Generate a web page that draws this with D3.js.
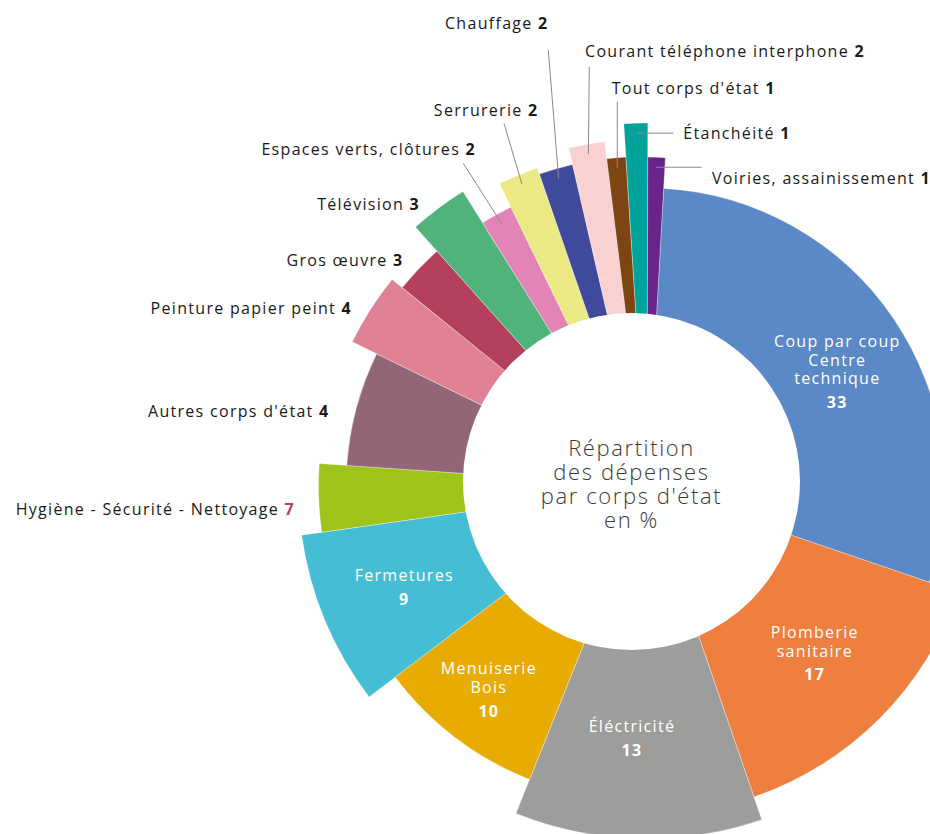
<!DOCTYPE html>
<html>
<head>
<meta charset="utf-8">
<script src="https://cdn.jsdelivr.net/npm/d3@7"></script>
<style>
  html, body { margin: 0; padding: 0; background: #fff; }
  svg { display: block; }
  text { font-family: "Open Sans", "Noto Sans", sans-serif; }
</style>
</head>
<body>
<svg id="chart" width="930" height="834"></svg>
<script>
// ---------------- DATA ----------------
const categories = [
  "Coup par coup Centre technique", "Plomberie sanitaire", "Éléctricité", "Menuiserie Bois",
  "Fermetures", "Hygiène - Sécurité - Nettoyage", "Autres corps d'état", "Peinture papier peint",
  "Gros œuvre", "Télévision", "Espaces verts, clôtures", "Serrurerie", "Chauffage",
  "Courant téléphone interphone", "Tout corps d'état", "Étanchéité", "Voiries, assainissement"
];
// percentages printed on the chart
const labelValues = [33, 17, 13, 10, 9, 7, 4, 4, 3, 3, 2, 2, 2, 2, 1, 1, 1];
// angular share of each slice
const sliceShare = [33.4, 16.5, 12.9, 9.8, 9.2, 3.8, 7.0, 4.1, 2.9, 3.1, 1.9, 2.2, 1.9, 1.9, 1.06, 1.2, 0.97];
// relative outer radius of each slice (max = 100)
const radiusIndex = [82.1, 90.6, 97.2, 87.1, 96.1, 90.5, 82.9, 90.4, 86.8, 95.7, 85.5, 92.7, 90.9, 95.6, 90.8, 100, 90.6];
// multi-line names for the labels drawn inside the big slices
const insideNames = [["Coup par coup", "Centre", "technique"], ["Plomberie", "sanitaire"], ["Éléctricité"], ["Menuiserie", "Bois"], ["Fermetures"]];
const centerTitle = ["Répartition", "des dépenses", "par corps d'état", "en %"];

// ---------------- STYLE / LAYOUT ----------------
const palette = ["#5b88c6", "#ee7f3e", "#9d9d9c", "#e8ac00", "#45bdd4", "#9ec41c", "#926677", "#e08294",
  "#b5405e", "#51b37c", "#e285b6", "#ebe983", "#404a9a", "#f9d1d0", "#7d4512", "#00a39a", "#68248a"];
const pieCenter = { x: 647, y: 486 };
const hole = { x: 631.5, y: 481.5, r: 168.5 };
const startDeg = 3.2;
const maxRadius = 363;
const labelFont = 16, labelSpacing = 1.3;

// inside label layout: distance from pie centre along mid angle, angle nudge (deg)
const insideLayout = [
  { d: 222, nudge: 3 }, { d: 237, nudge: 0 }, { d: 253, nudge: 2 }, { d: 258, nudge: 0.5 }, { d: 263, nudge: 0 }
];
// outside label layout (annotation positions)
const outsideLayout = {
  5:  { x: 295, y: 515, anchor: "end" },
  6:  { x: 329.5, y: 416.5, anchor: "end" },
  7:  { x: 352, y: 314, anchor: "end" },
  8:  { x: 403.5, y: 266, anchor: "end" },
  9:  { x: 420, y: 210, anchor: "end" },
  10: { x: 476, y: 154.5, anchor: "end", lx: 463.3, ly: 163.3 },
  11: { x: 538.5, y: 116, anchor: "end", lx: 504, ly: 123.3 },
  12: { x: 548.5, y: 29.3, anchor: "end", lx: 548.3, ly: 50 },
  13: { x: 585, y: 57.3, anchor: "start", lx: 589.3, ly: 66.7 },
  14: { x: 611.7, y: 94.3, anchor: "start", lx: 617.3, ly: 101.7 },
  15: { x: 683.3, y: 139, anchor: "start", lx: 673.3, horizontal: true },
  16: { x: 712, y: 184.3, anchor: "start", lx: 701.7, horizontal: true }
};

// ---------------- DRAW ----------------
const svg = d3.select("#chart");
const deg = Math.PI / 180;
const rScale = d3.scaleLinear().domain([0, 100]).range([0, maxRadius]);

const pie = d3.pie().sort(null).value(d => d)
  .startAngle(startDeg * deg).endAngle(startDeg * deg + 2 * Math.PI);
const arcsData = pie(sliceShare);

const g = svg.append("g").attr("transform", `translate(${pieCenter.x},${pieCenter.y})`);

g.selectAll("path.slice").data(arcsData).join("path")
  .attr("class", "slice")
  .attr("d", (d, i) => d3.arc().innerRadius(0).outerRadius(rScale(radiusIndex[i]))(d))
  .attr("fill", (d, i) => palette[i])
  .attr("stroke", "rgba(255,255,255,0.55)")
  .attr("stroke-width", 0.6);

// white hole
svg.append("circle").attr("cx", hole.x).attr("cy", hole.y).attr("r", hole.r).attr("fill", "#fff");

// centre title
const ct = svg.append("text").attr("text-anchor", "middle")
  .attr("font-size", 22).attr("font-weight", 300).attr("fill", "#3a3a3a").attr("letter-spacing", 1.6);
centerTitle.forEach((t, k) => {
  ct.append("tspan").attr("x", hole.x).attr("y", 456 + k * 24).text(t);
});

// inside labels
insideNames.forEach((lines, i) => {
  const a = arcsData[i];
  const mid = (a.startAngle + a.endAngle) / 2 + insideLayout[i].nudge * deg;
  const d = insideLayout[i].d;
  const cx = pieCenter.x + d * Math.sin(mid);
  const cy = pieCenter.y - d * Math.cos(mid);
  const lineGap = 18.7, numGap = 23.5;
  const total = (lines.length - 1) * lineGap + numGap;
  const top = cy - total / 2;
  const t = svg.append("text").attr("text-anchor", "middle").attr("fill", "#fff")
    .attr("font-size", labelFont).attr("font-weight", 500).attr("letter-spacing", labelSpacing);
  lines.forEach((ln, k) => {
    t.append("tspan").attr("x", cx).attr("y", top + k * lineGap).attr("dy", "0.35em").text(ln);
  });
  t.append("tspan").attr("x", cx).attr("y", top + (lines.length - 1) * lineGap + numGap)
    .attr("dy", "0.35em").attr("font-weight", 700).text(labelValues[i]);
});

// outside labels + leader lines
Object.keys(outsideLayout).forEach(key => {
  const i = +key;
  const L = outsideLayout[i];
  const a = arcsData[i];
  const mid = (a.startAngle + a.endAngle) / 2;
  const rEnd = rScale(radiusIndex[i]) - 10;
  const ex = pieCenter.x + rEnd * Math.sin(mid);
  const ey = pieCenter.y - rEnd * Math.cos(mid);
  if (L.lx !== undefined) {
    const x1 = L.lx, y1 = L.horizontal ? ey : L.ly;
    svg.append("line").attr("x1", x1).attr("y1", y1).attr("x2", ex).attr("y2", ey)
      .attr("stroke", "#8a8a8a").attr("stroke-width", 1);
  }
  const t = svg.append("text").attr("x", L.x).attr("y", L.y).attr("text-anchor", L.anchor)
    .attr("font-size", labelFont).attr("font-weight", 500).attr("fill", "#1a1a1a").attr("letter-spacing", labelSpacing);
  t.append("tspan").text(categories[i] + " ");
  t.append("tspan").attr("font-weight", 700)
    .attr("fill", i === 5 ? "#b5405e" : "#1a1a1a").text(labelValues[i]);
});
</script>
</body>
</html>
